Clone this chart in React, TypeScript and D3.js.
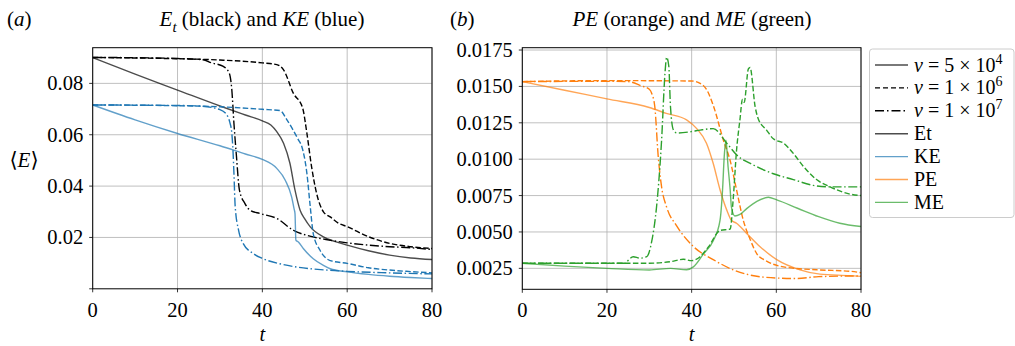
import React from "react";
import * as d3 from "d3";

type Pt = [number, number];

// Panel (a): total energy Et (black) and kinetic energy KE (blue)
const ET_NU5E4: Pt[] = [[0,0.090],[10,0.0836],[20,0.0774],[30,0.0712],[36,0.0677],[40,0.0654],[42,0.0638],[43.4,0.0612],[45,0.0567],[46.5,0.0489],[47.7,0.0384],[48.9,0.0306],[50,0.0272],[51.3,0.0241],[54.4,0.0202],[57,0.0185],[60,0.017],[65,0.0148],[70,0.0131],[75,0.012],[80,0.0114]];
const ET_NU1E6: Pt[] = [[0,0.0901],[10,0.0899],[20,0.0896],[30,0.0891],[40,0.088],[43.4,0.0873],[45,0.0853],[47.3,0.0762],[49.5,0.0704],[50.5,0.0606],[51.6,0.0476],[52.8,0.0371],[54.4,0.03],[56,0.028],[58,0.0255],[60,0.0242],[65,0.0203],[70,0.0177],[75,0.0164],[80,0.0157]];
const ET_NU1E7: Pt[] = [[0,0.0901],[10,0.09],[20,0.0897],[26,0.0892],[28,0.088],[30.8,0.0866],[32.2,0.084],[32.8,0.0775],[33.3,0.0645],[33.9,0.0515],[34.6,0.0384],[35.9,0.0332],[37.1,0.0306],[39.5,0.0293],[43.4,0.0274],[47.3,0.0228],[52,0.0202],[55,0.0192],[60,0.0179],[65,0.017],[70,0.0164],[75,0.016],[80,0.0153]];
const KE_NU5E4: Pt[] = [[0,0.0716],[10,0.0658],[20,0.0605],[30,0.0557],[36,0.0525],[40,0.0504],[43.4,0.0469],[45.4,0.0423],[46.9,0.0358],[47.5,0.031],[47.7,0.0293],[47.9,0.019],[48.5,0.0182],[49.7,0.0156],[52,0.0117],[54.4,0.0091],[56,0.0078],[60,0.0066],[65,0.0056],[70,0.0049],[75,0.0044],[80,0.004]];
const KE_NU1E6: Pt[] = [[0,0.0716],[20,0.0713],[30,0.0709],[40,0.0699],[44.2,0.0694],[45.8,0.0658],[48.5,0.058],[49.3,0.0554],[50.5,0.045],[51.3,0.0319],[52,0.0215],[53.6,0.015],[56,0.011],[60,0.0099],[65,0.0082],[70,0.0073],[75,0.0067],[80,0.0062]];
const KE_NU1E7: Pt[] = [[0,0.0716],[20,0.0714],[25,0.0712],[30,0.0698],[31.6,0.0678],[32.3,0.065],[32.8,0.0606],[33.1,0.053],[33.3,0.045],[33.6,0.032],[34.4,0.0228],[35.5,0.0176],[37.9,0.0137],[40.2,0.0117],[44,0.0098],[48,0.0085],[56,0.0072],[60,0.0068],[70,0.0062],[80,0.0058]];

// Panel (b): potential energy PE (orange) and magnetic energy ME (green)
const PE_NU5E4: Pt[] = [[0,0.01533],[10,0.01474],[20,0.01414],[30,0.01355],[34,0.01315],[38.8,0.0127],[41.2,0.0121],[43.5,0.0111],[45.1,0.0097],[46.7,0.0079],[48.3,0.0065],[49.4,0.0058],[50.6,0.0056],[53,0.0049],[56.1,0.004],[60.1,0.0031],[65.6,0.0024],[70.3,0.0021],[77.4,0.002],[80,0.00195]];
const PE_NU1E6: Pt[] = [[0,0.01533],[20,0.0154],[40,0.01537],[42,0.01521],[43.5,0.0148],[45.1,0.0137],[47.5,0.0113],[49.1,0.0099],[50.6,0.0079],[52.2,0.0058],[53.8,0.0045],[55.4,0.0035],[57.7,0.003],[61.7,0.0026],[69.5,0.0024],[77.4,0.0023],[80,0.0022]];
const PE_NU1E7: Pt[] = [[0,0.01533],[20,0.01535],[25,0.01533],[28,0.01505],[30,0.0148],[30.6,0.0145],[31.3,0.0136],[32.1,0.0102],[32.9,0.0081],[34.1,0.0067],[36.5,0.0054],[40.4,0.004],[45.1,0.0031],[49.8,0.0024],[56.9,0.0019],[64.8,0.0018],[70,0.00193],[80,0.00198]];
const ME_NU5E4: Pt[] = [[0,0.00285],[10,0.00265],[20,0.0025],[30,0.00239],[35,0.0025],[38.8,0.0024],[40.4,0.0026],[42.8,0.0035],[45.1,0.0044],[46.7,0.0058],[47.3,0.0079],[47.7,0.0102],[48.1,0.0113],[48.6,0.0095],[49.1,0.0079],[49.4,0.0067],[50.2,0.0061],[51.4,0.0062],[53,0.0066],[55.4,0.0071],[58.1,0.00738],[60.1,0.0072],[65,0.00663],[70,0.00605],[75,0.0056],[80,0.00537]];
const ME_NU1E6: Pt[] = [[0,0.00285],[30,0.00285],[35,0.00296],[38,0.00312],[40,0.00303],[42,0.0033],[44,0.00399],[46.7,0.0051],[49.1,0.0052],[49.8,0.0072],[50.6,0.0106],[51.4,0.0127],[52,0.0141],[52.4,0.0139],[53.4,0.0162],[53.8,0.0163],[55,0.0136],[55.7,0.0128],[57.7,0.012],[59.3,0.0114],[61.7,0.0111],[64,0.0104],[66.4,0.0095],[69.5,0.0086],[72.7,0.0081],[77.4,0.0076],[80,0.0075]];
const ME_NU1E7: Pt[] = [[0,0.00285],[24,0.00285],[26.2,0.0033],[27.8,0.0032],[29.4,0.0033],[30.6,0.0044],[31.7,0.0067],[32.9,0.0113],[33.7,0.0159],[34.1,0.017],[34.6,0.0164],[35,0.0136],[35.7,0.012],[36.5,0.0118],[40,0.0119],[42,0.0120],[45.1,0.0121],[48.3,0.0111],[50.6,0.0103],[54.6,0.0096],[59.3,0.009],[64,0.0086],[68.7,0.0082],[72.7,0.0081],[80,0.0081]];

const X_TICKS = [0, 20, 40, 60, 80];
const A_Y_TICKS = [0.02, 0.04, 0.06, 0.08];
const B_Y_TICKS = [0.0025, 0.005, 0.0075, 0.01, 0.0125, 0.015, 0.0175];

const LEGEND_LABELS = ["5", "1", "1"];
const LEGEND_EXPS = ["4", "6", "7"];
const LEGEND_NAMES = ["Et", "KE", "PE", "ME"];

const BLACK = "#000000";
const BLUE = "#1f77b4";
const ORANGE = "#ff7f0e";
const GREEN = "#2ca02c";

const FONT = "'Liberation Serif', 'DejaVu Serif', serif";
const DASH = "5.5,2.4";
const DASHDOT = "9,2.6,1.5,2.6";

type Series = { data: Pt[]; color: string; dash: string | null; solid: boolean };

function Panel(props: {
  left: number; right: number; top: number; bottom: number;
  yDomain: [number, number]; yTicks: number[]; yFmt: (v: number) => string;
  series: Series[]; zeroTick?: boolean;
}) {
  const { left, right, top, bottom, yDomain, yTicks, yFmt, series } = props;
  const x = d3.scaleLinear().domain([0, 80]).range([left, right]);
  const y = d3.scaleLinear().domain(yDomain).range([bottom, top]);
  const line = d3.line<Pt>().x(d => x(d[0])).y(d => y(d[1])).curve(d3.curveMonotoneX);
  return (
    <g>
      <defs>
        <clipPath id={`clip${left}`}>
          <rect x={left} y={top} width={right - left} height={bottom - top} />
        </clipPath>
      </defs>
      {X_TICKS.map(t => (
        <line key={"gx" + t} x1={x(t)} x2={x(t)} y1={top} y2={bottom} stroke="#b0b0b0" strokeWidth={0.8} />
      ))}
      {yTicks.map(t => (
        <line key={"gy" + t} x1={left} x2={right} y1={y(t)} y2={y(t)} stroke="#b0b0b0" strokeWidth={0.8} />
      ))}
      <g clipPath={`url(#clip${left})`}>
        {series.map((s, i) => (
          <path key={i} d={line(s.data) || ""} fill="none" stroke={s.color}
            strokeOpacity={s.solid ? 0.7 : 1} strokeWidth={1.4}
            strokeDasharray={s.dash || undefined} />
        ))}
      </g>
      <rect x={left} y={top} width={right - left} height={bottom - top} fill="none" stroke="#000" strokeWidth={1} />
      {X_TICKS.map(t => (
        <g key={"tx" + t}>
          <line x1={x(t)} x2={x(t)} y1={bottom} y2={bottom + 3.5} stroke="#000" strokeWidth={0.8} />
          <text x={x(t)} y={bottom + 28} textAnchor="middle" fontFamily={FONT} fontSize={20.5}>{t}</text>
        </g>
      ))}
      {props.zeroTick && (
        <line x1={left - 3.5} x2={left} y1={y(0)} y2={y(0)} stroke="#000" strokeWidth={0.8} />
      )}
      {yTicks.map(t => (
        <g key={"ty" + t}>
          <line x1={left - 3.5} x2={left} y1={y(t)} y2={y(t)} stroke="#000" strokeWidth={0.8} />
          <text x={left - 9.5} y={y(t) + 7} textAnchor="end" fontFamily={FONT} fontSize={20.5}>{yFmt(t)}</text>
        </g>
      ))}
      <text x={(left + right) / 2} y={bottom + 52} textAnchor="middle" fontFamily={FONT} fontSize={20.5} fontStyle="italic">t</text>
    </g>
  );
}

export default function App() {
  const aSeries: Series[] = [
    { data: ET_NU5E4, color: BLACK, dash: null, solid: true },
    { data: ET_NU1E6, color: BLACK, dash: DASH, solid: false },
    { data: ET_NU1E7, color: BLACK, dash: DASHDOT, solid: false },
    { data: KE_NU5E4, color: BLUE, dash: null, solid: true },
    { data: KE_NU1E6, color: BLUE, dash: DASH, solid: false },
    { data: KE_NU1E7, color: BLUE, dash: DASHDOT, solid: false },
  ];
  const bSeries: Series[] = [
    { data: PE_NU5E4, color: ORANGE, dash: null, solid: true },
    { data: PE_NU1E6, color: ORANGE, dash: DASH, solid: false },
    { data: PE_NU1E7, color: ORANGE, dash: DASHDOT, solid: false },
    { data: ME_NU5E4, color: GREEN, dash: null, solid: true },
    { data: ME_NU1E6, color: GREEN, dash: DASH, solid: false },
    { data: ME_NU1E7, color: GREEN, dash: DASHDOT, solid: false },
  ];
  const legendDash = [null, "5,3", "9,3,1.5,3"];
  const legendColors = [BLACK, BLUE, ORANGE, GREEN];
  const rowY = (i: number) => 65 + i * 22.9;
  return (
    <svg width={1015} height={346} style={{ position: "absolute", left: 0, top: 0, background: "#fff" }}>
      <rect x={0} y={0} width={1015} height={346} fill="#fff" />
      {/* titles */}
      <text x={7} y={26} fontFamily={FONT} fontSize={21}>(<tspan fontStyle="italic">a</tspan>)</text>
      <text x={262} y={26} textAnchor="middle" fontFamily={FONT} fontSize={21}>
        <tspan fontStyle="italic">E</tspan><tspan fontStyle="italic" fontSize={15} dy={6}>t</tspan>
        <tspan dy={-6}> (black) and </tspan><tspan fontStyle="italic">KE</tspan><tspan> (blue)</tspan>
      </text>
      <text x={450} y={26} fontFamily={FONT} fontSize={21}>(<tspan fontStyle="italic">b</tspan>)</text>
      <text x={692} y={26} textAnchor="middle" fontFamily={FONT} fontSize={21}>
        <tspan fontStyle="italic">PE</tspan><tspan> (orange) and </tspan><tspan fontStyle="italic">ME</tspan><tspan> (green)</tspan>
      </text>
      {/* y label */}
      <text x={24} y={167} textAnchor="middle" fontFamily={FONT} fontSize={21}>⟨<tspan fontStyle="italic">E</tspan>⟩</text>

      <Panel left={92.7} right={432} top={47.7} bottom={288.8} yDomain={[0, 0.0939]}
        yTicks={A_Y_TICKS} yFmt={v => v.toFixed(2)} series={aSeries} zeroTick />
      <Panel left={522.3} right={861} top={47.7} bottom={289.3} yDomain={[0.00106, 0.01766]}
        yTicks={B_Y_TICKS} yFmt={v => v.toFixed(4)} series={bSeries} />

      {/* legend */}
      <rect x={869.5} y={49} width={144.5} height={168.5} rx={3} fill="#fff" stroke="#cccccc" strokeWidth={1} />
      {LEGEND_LABELS.map((m, i) => (
        <g key={"lv" + i}>
          <line x1={875} x2={908} y1={rowY(i)} y2={rowY(i)} stroke="#000" strokeWidth={1.4}
            strokeOpacity={i === 0 ? 0.7 : 1} strokeDasharray={legendDash[i] || undefined} />
          <text x={914} y={rowY(i) + 6.5} fontFamily={FONT} fontSize={20}>
            <tspan fontStyle="italic">ν</tspan><tspan> = {m} × 10</tspan>
            <tspan fontSize={14} dy={-8}>{LEGEND_EXPS[i]}</tspan>
          </text>
        </g>
      ))}
      {LEGEND_NAMES.map((n, j) => (
        <g key={"ln" + n}>
          <line x1={875} x2={908} y1={rowY(j + 3)} y2={rowY(j + 3)} stroke={legendColors[j]} strokeWidth={1.4} strokeOpacity={0.7} />
          <text x={914} y={rowY(j + 3) + 6.5} fontFamily={FONT} fontSize={20}>{n}</text>
        </g>
      ))}
    </svg>
  );
}
